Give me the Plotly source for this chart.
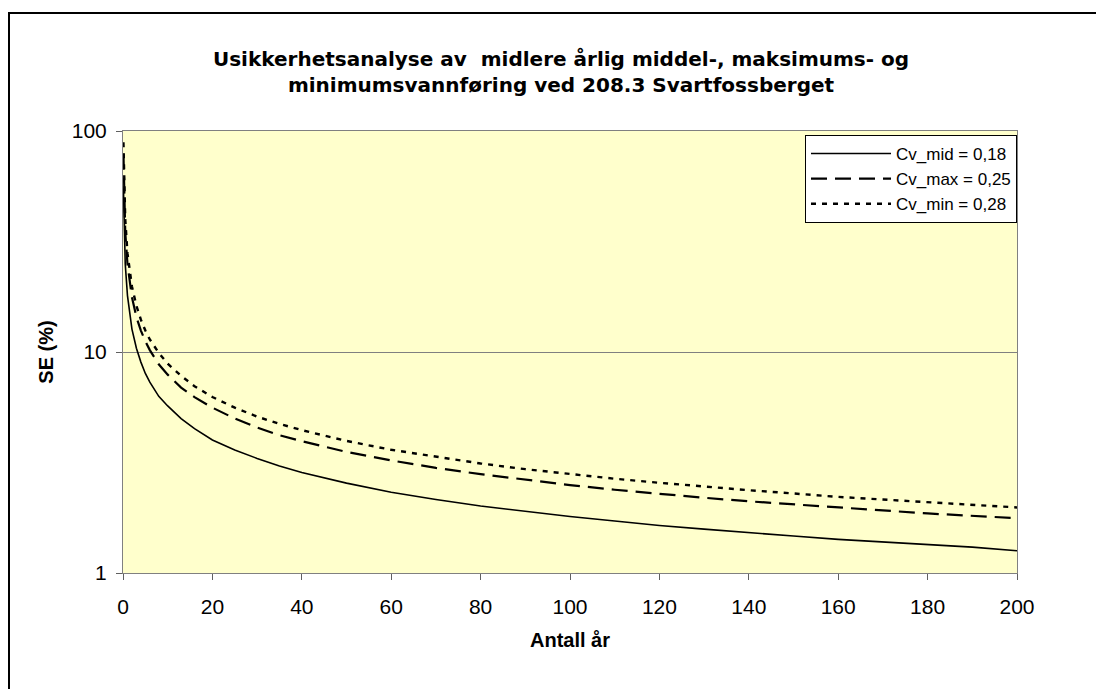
import plotly.graph_objs as go

# Antall år (number of years)
years = [0.1, 0.5, 1, 2, 3, 4, 5, 6, 8, 10, 13, 16, 20, 25, 30, 35, 40, 50,
         60, 70, 80, 90, 100, 110, 120, 130, 140, 150, 160, 170, 180, 190, 200]

# SE (%)
se_mid = [55, 25, 18, 12.7, 10.4, 9.0, 8.0, 7.3, 6.3, 5.7, 5.0, 4.5, 4.0, 3.6,
          3.3, 3.05, 2.85, 2.55, 2.32, 2.15, 2.01, 1.9, 1.8, 1.72, 1.64, 1.58,
          1.52, 1.47, 1.42, 1.38, 1.34, 1.31, 1.26]
se_max = [79, 35, 25, 17.7, 14.4, 12.5, 11.2, 10.2, 8.8, 7.9, 6.9, 6.25, 5.6,
          5.0, 4.55, 4.2, 3.95, 3.53, 3.23, 2.99, 2.8, 2.64, 2.5, 2.38, 2.28,
          2.19, 2.11, 2.04, 1.98, 1.92, 1.86, 1.81, 1.77]
se_min = [89, 40, 28, 19.8, 16.2, 14, 12.5, 11.4, 9.9, 8.85, 7.8, 7.0, 6.26,
          5.6, 5.1, 4.73, 4.43, 3.96, 3.61, 3.35, 3.13, 2.95, 2.8, 2.67, 2.56,
          2.46, 2.37, 2.29, 2.21, 2.15, 2.09, 2.03, 1.98]

series_names = ['Cv_mid = 0,18', 'Cv_max = 0,25', 'Cv_min = 0,28']

x_ticks = [0, 20, 40, 60, 80, 100, 120, 140, 160, 180, 200]
y_ticks = [1, 10, 100]

fig = go.Figure()

fig.add_trace(
    go.Scatter(
        x=years,
        y=se_mid,
        mode='lines',
        line=dict(color='black', width=1.6),
        name=series_names[0],
    )
)

fig.add_trace(
    go.Scatter(
        x=years,
        y=se_max,
        mode='lines',
        line=dict(color='black', width=2.2, dash='16px,8px'),
        name=series_names[1],
    )
)

fig.add_trace(
    go.Scatter(
        x=years,
        y=se_min,
        mode='lines',
        line=dict(color='black', width=2.4, dash='5px,6px'),
        name=series_names[2],
    )
)

# outer chart border (runs off the right/bottom of the picture)
fig.add_shape(
    type='rect',
    xref='paper', yref='paper',
    x0=-114 / 894, x1=1.12,
    y0=-0.3, y1=1 + 118 / 442,
    line=dict(color='black', width=2),
    fillcolor='rgba(0,0,0,0)',
    layer='below',
)

# the page body adds an 8px margin, so the figure is 8px smaller
fig.update_layout(
    width=1096,
    height=681,
    margin=dict(l=115, r=87, t=123, b=116),
    paper_bgcolor='white',
    plot_bgcolor='#FFFFCC',
    font=dict(family='Liberation Sans, Arial, sans-serif', color='black', size=21),
    title=dict(
        text='Usikkerhetsanalyse av  midlere årlig middel-, maksimums- og<br>'
             'minimumsvannføring ved 208.3 Svartfossberget',
        font=dict(family='DejaVu Sans, sans-serif', size=20, color='black',
                  weight='bold'),
        x=553 / 1096,
        xref='container',
        xanchor='center',
        y=1 - 58 / 681,
        yref='container',
        yanchor='top',
    ),
    xaxis=dict(
        range=[0, 200],
        tickvals=x_ticks,
        ticks='outside',
        ticklen=6,
        tickcolor='#606060',
        showline=True,
        linecolor='#808080',
        linewidth=1,
        mirror=True,
        showgrid=False,
        zeroline=False,
        ticklabelstandoff=9,
        title=dict(text='<b>Antall år</b>', standoff=15,
                   font=dict(size=20)),
    ),
    yaxis=dict(
        type='log',
        range=[0, 2],
        tickvals=y_ticks,
        ticktext=['1', '10', '100'],
        ticks='outside',
        ticklen=6,
        tickcolor='#606060',
        showline=True,
        linecolor='#808080',
        linewidth=1,
        mirror=True,
        showgrid=True,
        gridcolor='#808080',
        gridwidth=1,
        zeroline=False,
        ticklabelstandoff=5,
        title=dict(text='<b>SE (%)</b>', standoff=12,
                   font=dict(size=20)),
    ),
    legend=dict(
        x=1,
        xanchor='right',
        y=1 - 4 / 442,
        yanchor='top',
        bgcolor='white',
        bordercolor='black',
        borderwidth=1,
        font=dict(size=17),
        itemwidth=80,
        tracegroupgap=0,
    ),
    showlegend=True,
)

fig.write_html("out.html")
